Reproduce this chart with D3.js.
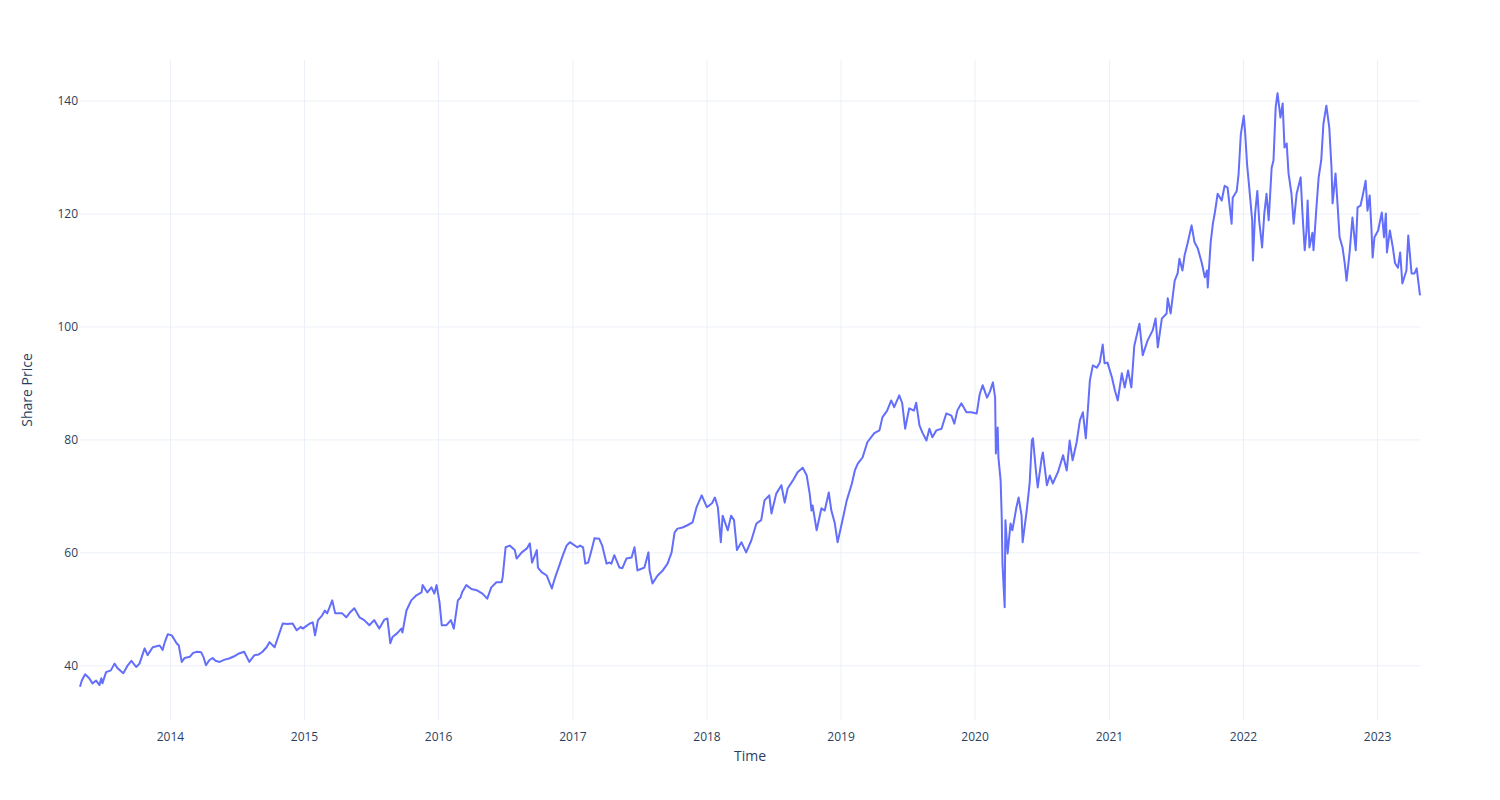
<!DOCTYPE html>
<html>
<head>
<meta charset="utf-8">
<script src="https://cdn.jsdelivr.net/npm/d3@7"></script>
<style>
  html, body { margin: 0; padding: 0; background: #fff; }
  svg { display: block; font-family: "Open Sans", verdana, arial, sans-serif; }
</style>
</head>
<body>
<svg id="chart" width="1500" height="800"></svg>
<script>
// ---- data ----
const dates = [
"2013-05-01","2013-05-06","2013-05-15","2013-05-26","2013-06-04","2013-06-14","2013-06-23","2013-06-28","2013-07-01","2013-07-11","2013-07-24","2013-08-03","2013-08-11","2013-08-27","2013-09-08","2013-09-18","2013-10-01","2013-10-10","2013-10-24","2013-11-01","2013-11-15","2013-12-04","2013-12-12","2013-12-17","2013-12-22","2013-12-26",
"2014-01-06","2014-01-19","2014-01-25","2014-02-02","2014-02-10","2014-02-24","2014-03-05","2014-03-16","2014-03-27","2014-04-02","2014-04-09","2014-04-18","2014-04-27","2014-05-05","2014-05-16","2014-05-30","2014-06-11","2014-06-25","2014-07-08","2014-07-22","2014-08-05","2014-08-19","2014-08-30","2014-09-10","2014-09-21","2014-09-29","2014-10-13","2014-10-26","2014-11-04","2014-11-17","2014-12-01","2014-12-12","2014-12-23","2014-12-29",
"2015-01-06","2015-01-17","2015-01-25","2015-01-31","2015-02-08","2015-02-19","2015-02-27","2015-03-05","2015-03-19","2015-03-27","2015-04-07","2015-04-15","2015-04-26","2015-05-07","2015-05-18","2015-06-01","2015-06-14","2015-06-28","2015-07-11","2015-07-25","2015-08-08","2015-08-16","2015-08-24","2015-08-30","2015-09-12","2015-09-23","2015-09-26","2015-10-07","2015-10-20","2015-11-03","2015-11-17","2015-11-20","2015-12-03","2015-12-14","2015-12-22","2015-12-28",
"2016-01-05","2016-01-11","2016-01-24","2016-02-05","2016-02-13","2016-02-24","2016-03-02","2016-03-07","2016-03-18","2016-04-01","2016-04-15","2016-05-01","2016-05-14","2016-05-25","2016-06-08","2016-06-22","2016-06-25","2016-07-03","2016-07-14","2016-07-28","2016-08-02","2016-08-16","2016-08-30","2016-09-07","2016-09-13","2016-09-26","2016-09-29","2016-10-09","2016-10-23","2016-11-06","2016-11-14","2016-11-28","2016-12-06","2016-12-16","2016-12-25",
"2017-01-14","2017-01-22","2017-01-30","2017-02-05","2017-02-13","2017-02-24","2017-03-02","2017-03-15","2017-03-23","2017-04-04","2017-04-12","2017-04-17","2017-04-25","2017-05-09","2017-05-17","2017-05-28","2017-06-11","2017-06-19","2017-06-27","2017-07-08","2017-07-16","2017-07-27","2017-07-30","2017-08-07","2017-08-21","2017-09-04","2017-09-17","2017-09-28","2017-10-06","2017-10-14","2017-10-28","2017-11-10","2017-11-24","2017-12-05","2017-12-19",
"2018-01-02","2018-01-16","2018-01-24","2018-02-01","2018-02-09","2018-02-14","2018-02-28","2018-03-09","2018-03-17","2018-03-25","2018-04-06","2018-04-19","2018-05-03","2018-05-17","2018-05-30","2018-06-08","2018-06-21","2018-06-27","2018-07-10","2018-07-24","2018-08-02","2018-08-10","2018-08-24","2018-09-06","2018-09-20","2018-10-01","2018-10-09","2018-10-14","2018-10-17","2018-10-28","2018-11-10","2018-11-19","2018-11-30","2018-12-07","2018-12-16","2018-12-24",
"2019-01-05","2019-01-18","2019-02-01","2019-02-09","2019-02-17","2019-03-02","2019-03-15","2019-04-03","2019-04-17","2019-04-25","2019-05-08","2019-05-19","2019-05-27","2019-06-10","2019-06-18","2019-06-26","2019-07-07","2019-07-20","2019-07-26","2019-08-04","2019-08-12","2019-08-23","2019-08-31","2019-09-08","2019-09-19","2019-10-03","2019-10-16","2019-10-30","2019-11-07","2019-11-15","2019-11-26","2019-12-10","2019-12-23",
"2020-01-07","2020-01-15","2020-01-23","2020-02-04","2020-02-12","2020-02-20","2020-02-26","2020-02-28","2020-03-04","2020-03-06","2020-03-12","2020-03-15","2020-03-17","2020-03-23","2020-03-25","2020-03-31","2020-04-08","2020-04-13","2020-04-24","2020-04-30","2020-05-08","2020-05-11","2020-05-22","2020-05-30","2020-06-05","2020-06-08","2020-06-16","2020-06-21","2020-07-02","2020-07-05","2020-07-16","2020-07-24","2020-08-01","2020-08-15","2020-08-29","2020-09-08","2020-09-16","2020-09-24","2020-10-05","2020-10-14","2020-10-22","2020-10-30","2020-11-05","2020-11-10","2020-11-18","2020-11-29","2020-12-07","2020-12-15","2020-12-20","2020-12-28",
"2021-01-09","2021-01-17","2021-01-25","2021-02-05","2021-02-13","2021-02-22","2021-03-03","2021-03-11","2021-03-25","2021-04-03","2021-04-16","2021-04-30","2021-05-08","2021-05-14","2021-05-25","2021-06-07","2021-06-10","2021-06-18","2021-06-29","2021-07-07","2021-07-12","2021-07-20","2021-07-26","2021-08-03","2021-08-14","2021-08-22","2021-08-31","2021-09-11","2021-09-19","2021-09-25","2021-09-27","2021-10-05","2021-10-11","2021-10-16","2021-10-24","2021-11-04","2021-11-12","2021-11-20","2021-12-01","2021-12-04","2021-12-15","2021-12-20","2021-12-26",
"2022-01-03","2022-01-07","2022-01-12","2022-01-18","2022-01-26","2022-01-28","2022-02-03","2022-02-09","2022-02-14","2022-02-22","2022-02-28","2022-03-06","2022-03-12","2022-03-20","2022-03-25","2022-03-31","2022-04-05","2022-04-13","2022-04-19","2022-04-24","2022-04-30","2022-05-05","2022-05-13","2022-05-19","2022-05-27","2022-06-07","2022-06-12","2022-06-18","2022-06-23","2022-06-26","2022-07-01","2022-07-09","2022-07-12","2022-07-20","2022-07-26","2022-08-02","2022-08-08","2022-08-16","2022-08-24","2022-08-30","2022-09-02","2022-09-10","2022-09-16","2022-09-21","2022-09-29","2022-10-05","2022-10-10","2022-10-18","2022-10-26","2022-11-04","2022-11-09","2022-11-17","2022-11-23","2022-12-01","2022-12-06","2022-12-12","2022-12-17","2022-12-20","2022-12-25",
"2023-01-04","2023-01-14","2023-01-20","2023-01-25","2023-01-28","2023-02-05","2023-02-13","2023-02-19","2023-02-27","2023-03-05","2023-03-11","2023-03-22","2023-03-27","2023-04-05","2023-04-13","2023-04-19","2023-04-28"
];
const prices = [
36.2,37.3,38.4,37.7,36.8,37.3,36.5,37.7,36.8,38.8,39.1,40.3,39.5,38.6,40.0,40.8,39.7,40.3,43.0,41.8,43.2,43.5,42.7,43.9,44.8,45.5,
45.3,43.9,43.5,40.6,41.3,41.5,42.2,42.4,42.3,41.5,40.0,40.9,41.3,40.8,40.6,41.0,41.2,41.6,42.1,42.4,40.6,41.8,41.9,42.4,43.2,44.1,43.2,45.7,47.4,47.3,47.4,46.2,46.8,46.5,
46.9,47.4,47.6,45.3,48.0,48.8,49.7,49.2,51.5,49.2,49.2,49.2,48.5,49.4,50.1,48.5,48.0,47.1,48.0,46.5,48.1,48.3,43.9,45.0,45.7,46.5,45.8,49.7,51.5,52.4,52.9,54.2,52.9,53.8,52.7,54.2,
51.2,47.1,47.1,48.0,46.5,51.5,52.0,53.0,54.2,53.5,53.3,52.7,51.8,53.8,54.7,54.7,55.6,60.9,61.2,60.4,58.9,60.0,60.7,61.6,58.2,60.4,57.3,56.5,55.9,53.6,55.4,58.0,59.5,61.2,61.8,
60.9,61.2,60.9,58.0,58.2,60.9,62.5,62.4,61.2,58.0,58.2,58.0,59.5,57.3,57.2,58.9,59.1,60.9,56.8,57.1,57.3,60.0,56.8,54.5,55.9,56.8,58.0,60.0,63.5,64.2,64.4,64.8,65.3,68.0,70.1,
68.0,68.7,69.7,68.0,61.8,66.5,63.9,66.5,65.7,60.4,61.8,60.0,62.1,65.1,65.7,69.2,70.1,66.9,70.4,71.9,68.8,71.3,72.7,74.2,75.0,73.6,70.4,67.4,68.3,63.9,67.8,67.4,70.6,67.4,65.3,61.8,
65.3,69.2,72.2,74.5,75.7,76.8,79.5,81.1,81.6,83.9,85.1,86.9,85.7,87.8,86.4,81.9,85.5,85.1,86.5,82.5,81.2,79.8,81.9,80.4,81.6,81.9,84.6,84.2,82.8,85.1,86.4,84.8,84.8,
84.6,88.0,89.6,87.4,88.5,90.1,87.4,77.5,82.1,76.8,72.7,66.2,58.0,50.3,65.7,59.8,65.1,63.9,68.0,69.7,66.5,61.8,67.4,72.2,79.8,80.2,74.5,71.5,76.8,77.7,71.9,73.6,72.2,74.2,77.2,74.5,79.8,76.3,79.5,83.4,84.8,80.2,85.7,90.4,93.1,92.7,93.6,96.8,93.5,93.6,
91.0,88.7,86.9,91.7,89.2,92.2,89.2,96.6,100.5,94.9,97.5,99.3,101.4,96.3,101.4,102.3,105.0,102.3,108.1,109.4,112.0,109.9,112.6,114.7,117.9,114.9,113.8,111.2,108.7,109.9,106.9,114.9,118.2,120.0,123.5,122.3,124.9,124.6,118.2,122.8,124.0,127.0,134.0,
137.3,134.2,128.8,124.6,118.8,111.7,120.0,124.0,118.8,114.0,120.0,123.5,118.8,128.1,129.4,138.8,141.3,137.0,139.5,131.7,132.4,127.1,123.5,118.2,123.5,126.4,120.0,113.5,117.0,122.3,114.0,116.6,113.5,121.1,126.4,129.4,135.9,139.1,135.2,128.1,121.8,127.1,121.1,115.8,114.0,111.2,108.1,112.9,119.3,113.5,121.1,121.4,123.2,125.8,120.5,123.2,117.0,112.2,115.8,
117.0,120.2,115.8,120.0,113.1,117.0,114.0,111.2,110.4,113.1,107.6,109.9,116.1,109.4,109.4,110.3,105.5
];
const yTicks = [40, 60, 80, 100, 120, 140];
const xTickYears = [2014, 2015, 2016, 2017, 2018, 2019, 2020, 2021, 2022, 2023];
const xTitle = "Time";
const yTitle = "Share Price";

// ---- drawing ----
const parse = d3.timeParse("%Y-%m-%d");
const data = dates.map((d, i) => ({ date: parse(d), value: prices[i] }));

const W = 1500, H = 800;
const margin = { left: 80, right: 80, top: 60, bottom: 80 };
const svg = d3.select("#chart");

const x = d3.scaleTime()
  .domain(d3.extent(data, d => d.date))
  .range([margin.left, W - margin.right]);

const ext = d3.extent(data, d => d.value);
const pad = (ext[1] - ext[0]) * 0.056;
const y = d3.scaleLinear()
  .domain([ext[0] - pad, ext[1] + pad])
  .range([H - margin.bottom, margin.top]);

const gridColor = "#EBF0F8";
const textColor = "#2a3f5f";

// gridlines
const xTicks = xTickYears.map(yr => new Date(yr, 0, 1));
svg.append("g").attr("class", "xgrid")
  .attr("transform", `translate(0,${H - margin.bottom})`)
  .call(d3.axisBottom(x).tickValues(xTicks).tickSize(-(H - margin.top - margin.bottom)).tickFormat(""))
  .call(g => g.select(".domain").remove())
  .call(g => g.selectAll("line").attr("stroke", gridColor).attr("stroke-width", 1));

svg.append("g").attr("class", "ygrid")
  .attr("transform", `translate(${margin.left},0)`)
  .call(d3.axisLeft(y).tickValues(yTicks).tickSize(-(W - margin.left - margin.right)).tickFormat(""))
  .call(g => g.select(".domain").remove())
  .call(g => g.selectAll("line").attr("stroke", gridColor).attr("stroke-width", 1));

// tick labels
svg.append("g").attr("class", "xaxis")
  .attr("transform", `translate(0,${H - margin.bottom})`)
  .call(d3.axisBottom(x).tickValues(xTicks).tickSize(0).tickPadding(12).tickFormat(d3.timeFormat("%Y")))
  .call(g => g.select(".domain").remove())
  .call(g => g.selectAll("text").attr("fill", textColor).attr("font-size", 12).attr("font-family", '"Open Sans", verdana, arial, sans-serif'));

svg.append("g").attr("class", "yaxis")
  .attr("transform", `translate(${margin.left},0)`)
  .call(d3.axisLeft(y).tickValues(yTicks).tickSize(0).tickPadding(2))
  .call(g => g.select(".domain").remove())
  .call(g => g.selectAll("text").attr("fill", textColor).attr("font-size", 12).attr("font-family", '"Open Sans", verdana, arial, sans-serif'));

// titles
svg.append("text")
  .attr("x", (margin.left + W - margin.right) / 2)
  .attr("y", 761)
  .attr("text-anchor", "middle")
  .attr("fill", textColor)
  .attr("font-size", 14)
  .text(xTitle);

svg.append("text")
  .attr("transform", `translate(32,${(margin.top + H - margin.bottom) / 2}) rotate(-90)`)
  .attr("text-anchor", "middle")
  .attr("fill", textColor)
  .attr("font-size", 14)
  .text(yTitle);

// line
const line = d3.line()
  .x(d => x(d.date))
  .y(d => y(d.value));

svg.append("path")
  .datum(data)
  .attr("fill", "none")
  .attr("stroke", "#636efa")
  .attr("stroke-width", 2)
  .attr("stroke-linejoin", "round")
  .attr("d", line);
</script>
</body>
</html>
